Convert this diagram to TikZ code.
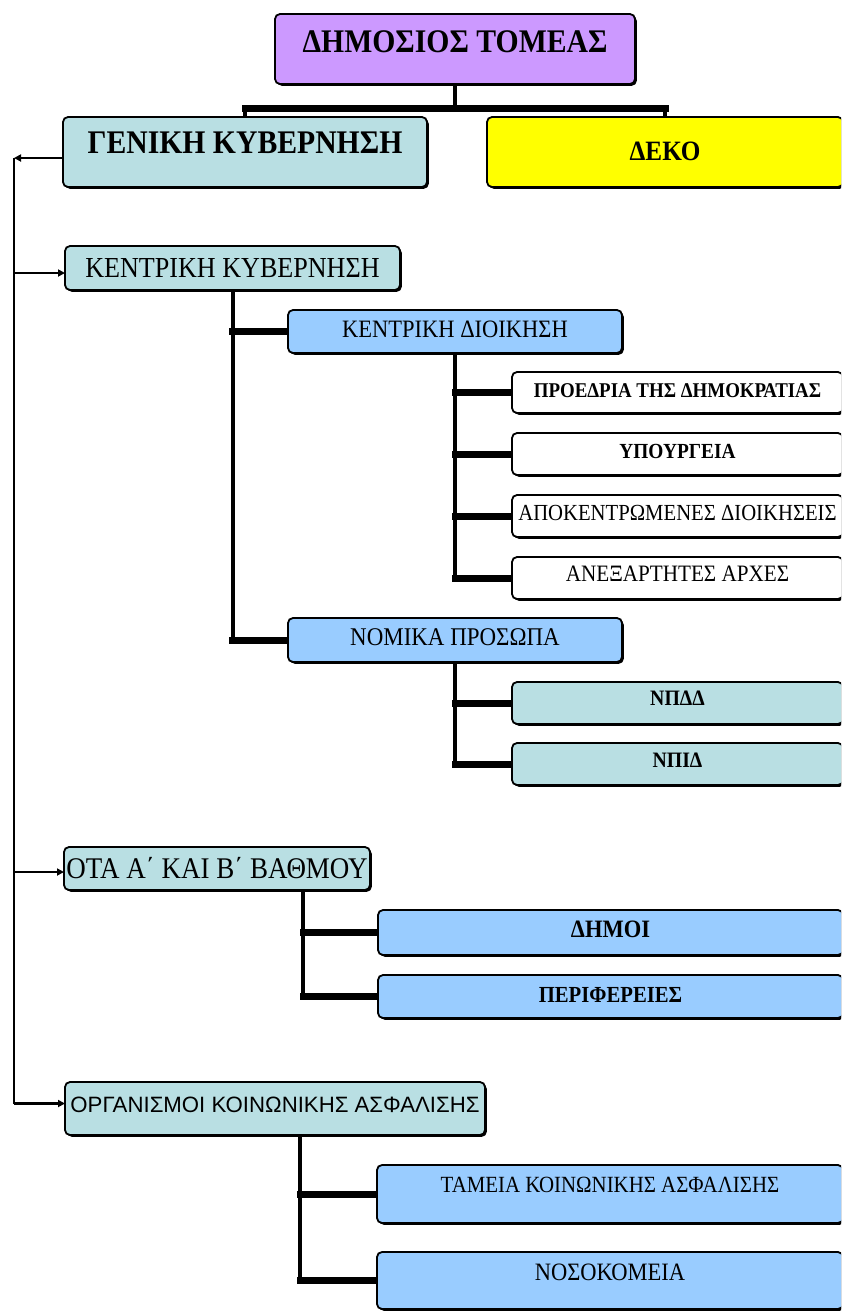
\documentclass[tikz,border=0pt]{standalone}
\usepackage{fontspec}
\setmainfont{Liberation Serif}[FakeStretch=0.9]
\newfontfamily\arialf{Liberation Sans}
\usetikzlibrary{shadows,arrows.meta,backgrounds}
\definecolor{cpurple}{HTML}{CC99FF}
\definecolor{cteal}{HTML}{B9DFE3}
\definecolor{cblue}{HTML}{99CCFF}
\definecolor{cyellow}{HTML}{FFFF00}
\newcommand{\myfs}[1]{\fontsize{#1}{#1}\selectfont}
\begin{document}
\begin{tikzpicture}[x=1pt,y=-1pt,
  bx/.style n args={3}{draw=black, line width=1.8pt, rounded corners=5pt,
    inner sep=0pt, outer sep=0pt, anchor=north west,
    minimum width=#1pt, text height=#2pt, text depth=#3pt,
    drop shadow={shadow xshift=1.8pt, shadow yshift=-1.8pt, opacity=1, fill=black}},
  vl/.style={line width=4pt, line cap=rect},
  hl/.style={line width=7pt, line cap=rect},
  sp/.style={line width=2pt},
  tip/.style={-{Triangle[length=7pt,width=7pt]}}
]
\useasboundingbox (0,0) rectangle (841,1315);
\clip (0,0) rectangle (841,1315);

\node[bx={360}{38}{32}, fill=cpurple, font=\bfseries\myfs{33}] (title) at (275,14) {ΔΗΜΟΣΙΟΣ ΤΟΜΕΑΣ};
\node[bx={364}{36}{34}, fill=cteal, font=\bfseries\myfs{33}] (gen) at (63,117) {ΓΕΝΙΚΗ ΚΥΒΕΡΝΗΣΗ};
\node[bx={356}{43}{27}, fill=cyellow, font=\bfseries\myfs{28}] (deko) at (487,117) {ΔΕΚΟ};

\node[bx={335}{31}{13}, fill=cteal, font=\myfs{29}] (kk) at (65,246) {ΚΕΝΤΡΙΚΗ ΚΥΒΕΡΝΗΣΗ};
\node[bx={334}{27}{16}, fill=cblue, font=\myfs{25}] (kd) at (288,310) {ΚΕΝΤΡΙΚΗ ΔΙΟΙΚΗΣΗ};
\node[bx={331}{25}{16}, fill=white, font=\bfseries\myfs{21}] (pro) at (512,372) {ΠΡΟΕΔΡΙΑ ΤΗΣ ΔΗΜΟΚΡΑΤΙΑΣ};
\node[bx={331}{25}{17}, fill=white, font=\bfseries\myfs{21.5}] (ypo) at (512,433) {ΥΠΟΥΡΓΕΙΑ};
\node[bx={331}{25}{17}, fill=white, font=\myfs{23}] (apo) at (512,495) {ΑΠΟΚΕΝΤΡΩΜΕΝΕΣ ΔΙΟΙΚΗΣΕΙΣ};
\node[bx={331}{24}{18}, fill=white, font=\myfs{23.5}] (ane) at (512,557) {ΑΝΕΞΑΡΤΗΤΕΣ ΑΡΧΕΣ};
\node[bx={334}{27}{17}, fill=cblue, font=\myfs{25.5}] (nom) at (288,618) {ΝΟΜΙΚΑ ΠΡΟΣΩΠΑ};
\node[bx={331}{23}{19}, fill=cteal, font=\bfseries\myfs{22}] (npdd) at (512,682) {ΝΠΔΔ};
\node[bx={331}{24}{18}, fill=cteal, font=\bfseries\myfs{22}] (npid) at (512,743) {ΝΠΙΔ};

\node[bx={306}{31}{12}, fill=cteal, font=\myfs{30}] (ota) at (64,847) {ΟΤΑ Α΄ ΚΑΙ Β΄ ΒΑΘΜΟΥ};
\node[bx={465}{27}{18}, fill=cblue, font=\bfseries\myfs{25}] (dimoi) at (378,910) {ΔΗΜΟΙ};
\node[bx={465}{27}{16}, fill=cblue, font=\bfseries\myfs{23}] (peri) at (378,975) {ΠΕΡΙΦΕΡΕΙΕΣ};

\node[bx={420}{30}{23}, fill=cteal, font=\arialf\myfs{22.2}] (org) at (65,1082) {ΟΡΓΑΝΙΣΜΟΙ ΚΟΙΝΩΝΙΚΗΣ ΑΣΦΑΛΙΣΗΣ};
\node[bx={466}{27}{31}, fill=cblue, font=\myfs{23.2}] (tam) at (377,1165) {ΤΑΜΕΙΑ ΚΟΙΝΩΝΙΚΗΣ ΑΣΦΑΛΙΣΗΣ};
\node[bx={466}{28}{29}, fill=cblue, font=\myfs{25}] (nos) at (377,1252) {ΝΟΣΟΚΟΜΕΙΑ};

\begin{scope}[on background layer]
\fill[white] (0,0) rectangle (841,1315);
% top bar
\coordinate (bary) at (455,108);
\draw[vl] (title.south) -- (title.south |- bary);
\draw[hl] (gen.north |- bary) -- (deko.north |- bary);
\draw[vl] (gen.north |- bary) -- (gen.north);
\draw[vl] (deko.north |- bary) -- (deko.north);
% spine
\coordinate (genout) at ([yshift=-6pt]gen.west);
\coordinate (spT) at (14,158);
\coordinate (kkin) at ([yshift=-5pt]kk.west);
\coordinate (otain) at ([yshift=-3.5pt]ota.west);
\coordinate (orgin) at ([yshift=5pt]org.west);
\draw[sp,tip] (genout) -- (spT);
\draw[sp] (spT) -- (spT |- orgin);
\draw[sp,tip] (spT |- kkin) -- (kkin);
\draw[sp,tip] (spT |- otain) -- (otain);
\draw[sp,tip,line width=2.6pt] (spT |- orgin) -- (orgin);
% central government
\draw[vl] (kk.south) -- (kk.south |- nom.west);
\draw[hl] (kk.south |- kd.west) -- (kd.west);
\draw[hl] (kk.south |- nom.west) -- (nom.west);
\draw[vl] (kd.south) -- (kd.south |- ane.west);
\foreach \n in {pro,ypo,apo,ane} \draw[hl] (kd.south |- \n.west) -- (\n.west);
\draw[vl] (nom.south) -- (nom.south |- npid.west);
\foreach \n in {npdd,npid} \draw[hl] (nom.south |- \n.west) -- (\n.west);
% local government
\coordinate (otax) at (303,0);
\draw[vl] (otax |- ota.south) -- (otax |- peri.west);
\foreach \n in {dimoi,peri} \draw[hl] (otax |- \n.west) -- (\n.west);
% social security
\coordinate (orgx) at (300,0);
\draw[vl] (orgx |- org.south) -- (orgx |- nos.west);
\foreach \n in {tam,nos} \draw[hl] (orgx |- \n.west) -- (\n.west);
\end{scope}
\end{tikzpicture}
\end{document}
